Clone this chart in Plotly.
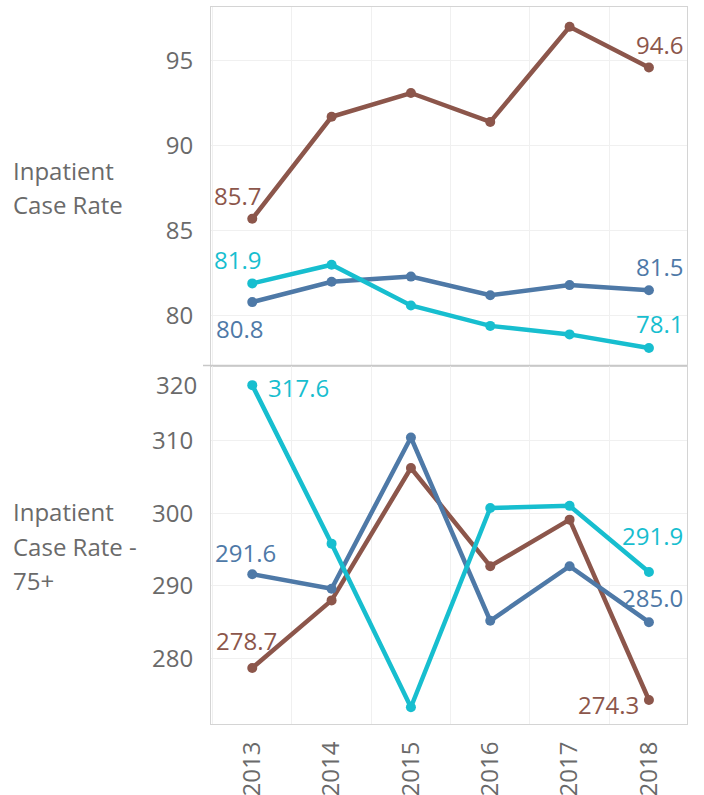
import plotly.graph_objects as go
from plotly.subplots import make_subplots

years = ["2013", "2014", "2015", "2016", "2017", "2018"]

# Inpatient Case Rate
rate_brown = [85.7, 91.7, 93.1, 91.4, 97.0, 94.6]
rate_blue = [80.8, 82.0, 82.3, 81.2, 81.8, 81.5]
rate_cyan = [81.9, 83.0, 80.6, 79.4, 78.9, 78.1]

# Inpatient Case Rate - 75+
rate75_brown = [278.7, 288.0, 306.2, 292.7, 299.1, 274.3]
rate75_blue = [291.6, 289.6, 310.4, 285.2, 292.7, 285.0]
rate75_cyan = [317.6, 295.8, 273.3, 300.7, 301.0, 291.9]

top_ticks = [80, 85, 90, 95]
bottom_ticks = [280, 290, 300, 310]

BROWN = "#8C564B"
BLUE = "#4E79A7"
CYAN = "#17BECF"
GREY = "#6a6a6a"
FONT = "Open Sans"
FS = 24

fig = make_subplots(rows=2, cols=1, shared_xaxes=True, vertical_spacing=0)

def add_series(vals, color, row):
    fig.add_trace(go.Scatter(x=years, y=vals, mode="lines+markers",
                             line=dict(color=color, width=4.5),
                             marker=dict(color=color, size=10),
                             showlegend=False, hoverinfo="skip"), row=row, col=1)

add_series(rate_brown, BROWN, 1)
add_series(rate_blue, BLUE, 1)
add_series(rate_cyan, CYAN, 1)
add_series(rate75_brown, BROWN, 2)
add_series(rate75_blue, BLUE, 2)
add_series(rate75_cyan, CYAN, 2)

def lab(vals, idx, color, xref, yref, xs, ys):
    fig.add_annotation(x=idx, y=vals[idx], xref=xref, yref=yref,
                       text=f"{vals[idx]:.1f}", showarrow=False,
                       xanchor="center", yanchor="middle", xshift=xs, yshift=ys,
                       font=dict(family=FONT, size=FS, color=color))

lab(rate_brown, 0, BROWN, "x", "y", -15, 23)
lab(rate_cyan, 0, CYAN, "x", "y", -15, 24)
lab(rate_blue, 0, BLUE, "x", "y", -13, -26)
lab(rate_brown, 5, BROWN, "x", "y", 11, 23)
lab(rate_blue, 5, BLUE, "x", "y", 11, 24)
lab(rate_cyan, 5, CYAN, "x", "y", 11, 24)

lab(rate75_cyan, 0, CYAN, "x2", "y2", 46, -2)
lab(rate75_blue, 0, BLUE, "x2", "y2", -7, 22)
lab(rate75_brown, 0, BROWN, "x2", "y2", -6, 28)
lab(rate75_cyan, 5, CYAN, "x2", "y2", 4, 37)
lab(rate75_blue, 5, BLUE, "x2", "y2", 4, 25)
lab(rate75_brown, 5, BROWN, "x2", "y2", -40, -4)

# "320" tick label, nudged inside the pane as in the original
fig.add_annotation(x=0, y=320, xref="paper", yref="y2", text="320", showarrow=False,
                   xanchor="right", yanchor="middle", xshift=-12, yshift=-17,
                   font=dict(family=FONT, size=FS, color=GREY))

# row headers
def header(text, ypix):
    fig.add_annotation(x=(11 - 211) / 476, y=(724 - ypix) / 717, xref="paper", yref="paper",
                       text=text, showarrow=False, xanchor="left", yanchor="middle",
                       font=dict(family=FONT, size=FS, color=GREY))

header("Inpatient", 170)
header("Case Rate", 204)
header("Inpatient", 511)
header("Case Rate -", 546)
header("75+", 580)

# pane separator
fig.add_shape(type="line", xref="paper", yref="paper", x0=(203 - 211) / 476, x1=1,
              y0=0.5, y1=0.5, line=dict(color="#c8c8c8", width=1.5))

axis_common = dict(showline=True, mirror=True, linecolor="#d4d4d4", linewidth=1,
                   gridcolor="#f0f0f0", gridwidth=1, zeroline=False, automargin=False,
                   tickfont=dict(family=FONT, size=FS, color=GREY))

fig.update_xaxes(type="category", range=[-0.52, 5.48], tickson="boundaries",
                 showgrid=True, ticks="", **axis_common)
fig.update_xaxes(showticklabels=False, row=1, col=1)
fig.update_xaxes(tickangle=-90, ticklabelstandoff=7, row=2, col=1)

fig.update_yaxes(showgrid=True, ticks="", ticklabelstandoff=12, **axis_common)
fig.update_yaxes(range=[77.07, 98.16], tickvals=top_ticks, row=1, col=1)
fig.update_yaxes(range=[271.0, 320.3], tickvals=bottom_ticks, row=2, col=1)

fig.update_layout(width=704, height=795, margin=dict(l=211, r=17, t=7, b=71),
                  paper_bgcolor="white", plot_bgcolor="white",
                  font=dict(family=FONT, size=FS, color=GREY))

fig.write_html("out.html", config={"displayModeBar": False},
               post_script="document.body.style.margin='0';")
